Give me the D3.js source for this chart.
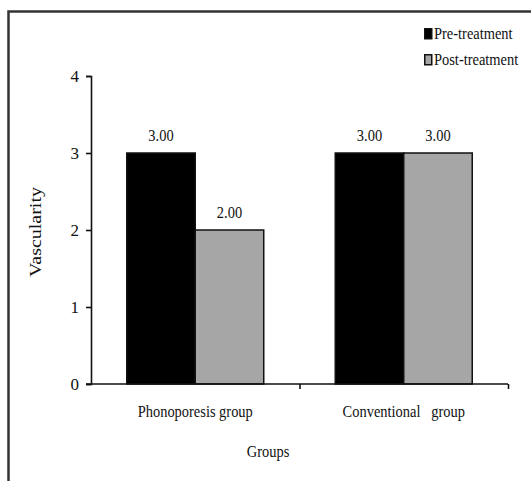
<!DOCTYPE html>
<html>
<head>
<meta charset="utf-8">
<script src="https://cdn.jsdelivr.net/npm/d3@7"></script>
<style>
  body { margin: 0; background: #fff; }
  text { font-family: "Liberation Serif", "Times New Roman", serif; fill: #111; }
</style>
</head>
<body>
<script>
'use strict'

const groups = ['Phonoporesis group', 'Conventional   group']
const series = ['Pre-treatment', 'Post-treatment']
const preValues = [3, 3]
const postValues = [2, 3]
const yTicks = [0, 1, 2, 3, 4]
const colors = ['#000000', '#a6a6a6']

const W = 531
const H = 481
const FS = 17
const SX = 0.85 // picture is squeezed sideways, so the serif type is too

const svg = d3.select('body').append('svg')
  .attr('width', W)
  .attr('height', H)

// frame, cut off at right and bottom
svg.append('path')
  .attr('d', `M8.5,${H}V11.5H${W}`)
  .attr('fill', 'none')
  .attr('stroke', '#333')
  .attr('stroke-width', 2.5)

const rows = groups.map((g, i) => ({ group: g, values: [preValues[i], postValues[i]] }))

const x0 = d3.scaleBand()
  .domain(groups)
  .range([91, 508])
  .paddingInner(0.343)
  .paddingOuter(0.1715)

const x1 = d3.scaleBand()
  .domain(series)
  .range([0, x0.bandwidth()])

const y = d3.scaleLinear()
  .domain([0, 4])
  .range([384, 76])

// squeezed text helper
function label (sel, x, yy, txt, anchor) {
  return sel.append('text')
    .attr('transform', `translate(${x},${yy}) scale(${SX},1)`)
    .attr('text-anchor', anchor || 'middle')
    .style('font-size', FS + 'px')
    .style('white-space', 'pre')
    .text(txt)
}

// bars
const g = svg.append('g')
rows.forEach(row => {
  const cell = g.append('g').attr('transform', `translate(${x0(row.group)},0)`)
  cell.selectAll('rect')
    .data(row.values)
    .enter()
    .append('rect')
    .attr('x', (d, i) => x1(series[i]))
    .attr('y', d => y(d))
    .attr('width', x1.bandwidth())
    .attr('height', d => y(0) - y(d))
    .attr('fill', (d, i) => colors[i])
    .attr('stroke', '#111')
    .attr('stroke-width', 1.5)

  row.values.forEach((v, i) => {
    label(cell, x1(series[i]) + x1.bandwidth() / 2, y(v) - 12, v.toFixed(2))
  })
})

// y axis
const yAxis = svg.append('g')
  .attr('transform', 'translate(91,0)')
  .call(d3.axisLeft(y).tickValues(yTicks).tickSize(5).tickSizeOuter(5).tickPadding(7).tickFormat(d3.format('d')))
yAxis.selectAll('path, line').attr('stroke', '#111').attr('stroke-width', 1.6)
yAxis.selectAll('text')
  .style('font-size', FS + 'px')
  .style('font-family', '"Liberation Serif", serif')
  .attr('fill', '#111')
  .attr('dy', '0.32em')

// x axis, ticks sit between the groups
const xEdges = d3.scaleLinear().domain([0, groups.length]).range(x0.range())
const xAxis = svg.append('g')
  .attr('transform', `translate(0,${y(0)})`)
  .call(d3.axisBottom(xEdges).tickValues([1, 2]).tickSize(5).tickSizeOuter(0).tickFormat(''))
xAxis.select('.domain').attr('d', `M86,0H${x0.range()[1]}`)
xAxis.selectAll('path, line').attr('stroke', '#111').attr('stroke-width', 1.6)

groups.forEach(gr => {
  label(svg, x0(gr) + x0.bandwidth() / 2, 417, gr)
})

// axis titles
label(svg, 268, 457, 'Groups')
svg.append('text')
  .attr('transform', 'translate(41,232) rotate(-90) scale(1,0.85)')
  .attr('text-anchor', 'middle')
  .style('font-size', '20px')
  .text('Vascularity')

// legend
const legend = svg.append('g').attr('transform', 'translate(424,28)')
const items = legend.selectAll('g')
  .data(series)
  .enter()
  .append('g')
  .attr('transform', (d, i) => `translate(0,${i * 26})`)
items.append('rect')
  .attr('x', 0.75)
  .attr('y', 0.75)
  .attr('width', 7)
  .attr('height', 10)
  .attr('fill', (d, i) => colors[i])
  .attr('stroke', '#111')
  .attr('stroke-width', 1.5)
items.each(function (d) {
  label(d3.select(this), 10, 11, d, 'start')
})
</script>
</body>
</html>
